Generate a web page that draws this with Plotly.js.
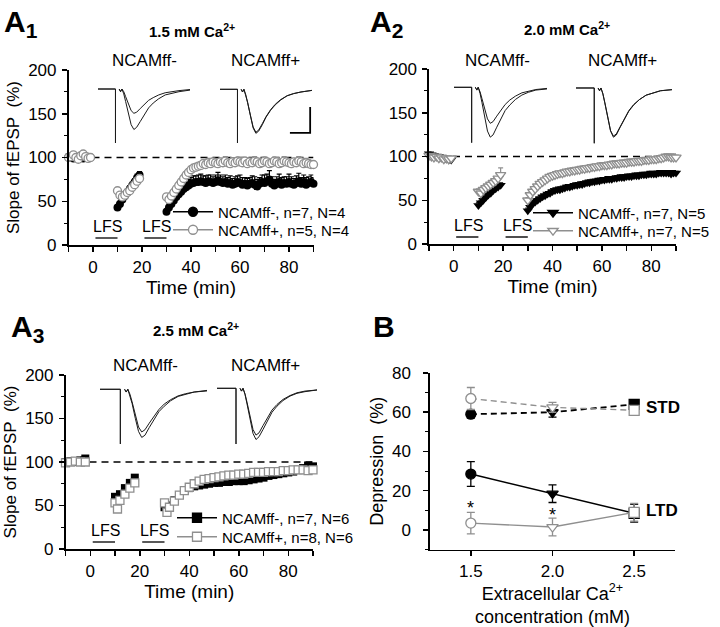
<!DOCTYPE html>
<html><head><meta charset="utf-8">
<script src="https://cdn.plot.ly/plotly-3.0.1.min.js"></script>
<style>html,body{margin:0;padding:0;background:#fff}#chart{width:720px;height:627px}</style>
</head><body><div id="chart"></div><script>
const FONT = 'Liberation Sans, Arial, Helvetica, sans-serif';
const GREY = '#8f8f8f';

// ---------- time axis (min) for A1 / A2 ----------
const timeBase = [-10,-9,-8,-7,-6,-5,-4,-3,-2,-1];
const timeAfterLfs1 = [10,11,12,13,14,15,16,17,18,19];
const timeAfterLfs2 = [30,31,32,33,34,35,36,37,38,39,40,41,42,43,44,45,46,47,48,49,50,51,52,53,54,55,56,57,58,59,60,61,62,63,64,65,66,67,68,69,70,71,72,73,74,75,76,77,78,79,80,81,82,83,84,85,86,87,88,89,90];

// ---------- A1 : 1.5 mM Ca ----------
const a1MinusBase = [101,100,99,100,101,100,99,100,101,100];
const a1MinusLfs1 = [43,47,52,56,60,64,68,72,77,80];
const a1MinusLfs2 = [38,43,47,51,55,58,61,64,66,68,70,71,72,72,73,72,71,73,72,71,72,74,72,71,72,70,71,69,70,72,71,69,70,68,70,71,69,67,70,72,71,73,75,70,68,70,72,69,71,70,72,70,69,71,73,70,72,69,71,72,70];
const a1PlusBase = [100,101,103,100,98,102,104,101,99,100];
const a1PlusLfs1 = [62,57,55,57,60,62,66,69,73,76];
const a1PlusLfs2 = [55,52,56,60,64,68,72,76,80,83,86,88,89,90,91,93,92,94,93,95,94,93,95,94,96,94,93,95,94,96,95,94,96,93,95,94,96,95,93,94,96,95,93,94,96,95,93,94,96,95,94,93,95,94,96,95,93,94,93,92,92];
const a1MinusErr = [2,2,2,2,2,2,2,2,2,2, 3,3,3,3,4,4,4,4,4,4, 3,4,4,5,5,5,6,6,6,7,7,8,7,8,8,7,8,7,8,7,8,9,8,7,8,7,8,7,8,7,9,8,7,8,7,8,9,8,7,8,9,8,10,8,7,8,9,8,7,8,9,8,7,8,9,7,8,8,7,8,7];
const a1PlusErr = [2,2,2,2,2,2,2,2,2,2, 3,3,3,3,3,4,3,3,4,4, 3,3,3,3,4,4,4,4,4,4,4,4,4,4,4,4,4,5,4,4,4,5,4,4,5,4,4,5,4,4,5,4,4,5,4,4,5,4,4,5,4,4,5,4,4,5,4,4,5,4,4,5,4,4,5,4,4,5,4,4,4];

// ---------- A2 : 2.0 mM Ca ----------
const a2MinusBase = [103,102,101,100,100,99,98,97,96,96];
const a2MinusLfs1 = [44,47,50,53,56,58,61,63,65,67];
const a2MinusLfs2 = [38,42,46,48,50,52,54,55,57,58,60,61,62,62,63,64,65,65,66,67,67,68,68,69,70,70,71,71,72,72,73,73,74,74,74,75,75,76,76,76,77,77,77,78,78,78,79,79,79,80,80,80,80,81,81,81,81,81,80,81,81];
const a2PlusBase = [101,100,99,100,98,99,97,98,97,98];
const a2PlusLfs1 = [60,58,62,64,66,68,70,72,75,79];
const a2PlusLfs2 = [50,56,60,63,66,69,71,73,75,77,78,79,80,81,81,82,83,83,84,84,85,85,86,86,87,87,88,88,89,89,90,90,90,91,91,92,92,92,93,93,93,94,94,94,95,95,95,96,96,96,97,97,97,98,98,99,100,100,99,99,99];
const a2MinusErr = [2,2,2,2,2,2,2,2,2,2, 3,3,3,3,3,3,3,3,3,3, 3,3,3,3,3,3,3,3,3,3,3,3,3,3,3,3,3,3,3,3,3,3,3,3,3,3,3,3,3,3,3,3,3,3,3,3,3,3,3,3,3,3,3,3,3,3,3,3,3,3,3,3,3,3,3,3,3,3,3,3,3];
const a2PlusErr = [2,2,2,2,2,2,2,2,2,2, 3,3,3,3,3,3,4,4,5,8, 3,3,3,3,3,3,3,3,3,3,3,3,3,3,3,3,3,3,3,3,3,3,3,3,3,3,3,3,3,3,3,3,3,3,3,3,3,3,3,3,3,3,3,3,3,3,3,3,3,3,3,3,3,3,3,3,3,3,3,4,3];

// ---------- A3 : 2.5 mM Ca ----------
const a3TimeBase = [-10,-8,-6,-4,-2];
const a3TimeLfs1 = [10,11,12,14,16,18];
const a3TimeLfs2 = [30,31,32,34,36,38,40,42,44,46,48,50,52,54,56,58,60,62,64,66,68,70,72,74,76,78,80,82,84,86,88,90];
const a3MinusBase = [100,101,100,102,104];
const a3MinusLfs1 = [60,58,63,70,76,82];
const a3MinusLfs2 = [48,46,50,56,62,67,70,72,73,74,75,76,76,77,77,78,78,78,79,80,81,82,84,85,86,87,88,89,91,93,96,95];
const a3PlusBase = [99,100,101,100,100];
const a3PlusLfs1 = [53,46,56,63,70,76];
const a3PlusLfs2 = [53,42,48,55,62,67,71,75,78,80,81,82,83,84,85,85,86,86,87,88,88,88,89,89,89,90,90,91,91,91,90,91];
const a3Err = [2,2,2,2,2, 2,2,2,2,2,2, 2,2,2,2,2,2,2,2,2,2,2,2,2,2,2,2,2,2,2,2,2,2,2,2,2,2,2,2,2,2,2,2];

// ---------- B : summary ----------
const caConc = [1.5, 2.0, 2.5];
const pointSymbols = ['circle','triangle-down','square'];
const stdMinus = [59, 60, 64];     const stdMinusErr = [2, 2.5, 1.5];
const stdPlus  = [67, 62.5, 61];   const stdPlusErr  = [5.6, 2.5, 2];
const ltdMinus = [28.5, 18.5, 8.5]; const ltdMinusErr = [6.3, 4.5, 4.5];
const ltdPlus  = [3.5, 1.5, 9];    const ltdPlusErr  = [5.5, 4.5, 4.5];

// ---------- inset fEPSP waveforms (ms, normalised) ----------
const waveT = [0,1.9,1.9,null,2.3,2.45,2.6,2.8,3.0,3.3,3.6,3.9,4.2,4.6,5.0,5.5,6.0,6.6,7.3,8.0,8.8,10];
const wA1MinusPre  = [0,0,-1,null,0,-0.05,0,-0.09,-0.23,-0.45,-0.66,-0.75,-0.71,-0.6,-0.48,-0.35,-0.26,-0.18,-0.11,-0.08,-0.05,-0.02];
const wA1MinusPost = [0,0,-1,null,0,-0.05,0,-0.05,-0.14,-0.27,-0.4,-0.45,-0.43,-0.36,-0.29,-0.21,-0.16,-0.11,-0.07,-0.05,-0.03,-0.01];
const wA1PlusPre   = [0,0,-1,null,0,-0.05,0,-0.1,-0.25,-0.49,-0.72,-0.82,-0.78,-0.66,-0.52,-0.39,-0.29,-0.2,-0.12,-0.08,-0.05,-0.02];
const wA1PlusPost  = [0,0,-1,null,0,-0.05,0,-0.1,-0.24,-0.48,-0.7,-0.8,-0.76,-0.64,-0.51,-0.38,-0.28,-0.19,-0.12,-0.08,-0.05,-0.02];
const wA2MinusPre  = [0,0,-1,null,0,-0.05,0,-0.11,-0.27,-0.54,-0.79,-0.9,-0.86,-0.72,-0.58,-0.42,-0.32,-0.22,-0.14,-0.09,-0.05,-0.03];
const wA2MinusPost = [0,0,-1,null,0,-0.05,0,-0.08,-0.2,-0.39,-0.57,-0.65,-0.62,-0.52,-0.42,-0.31,-0.23,-0.16,-0.1,-0.07,-0.04,-0.02];
const wA2PlusPre   = [0,0,-1,null,0,-0.05,0,-0.11,-0.27,-0.53,-0.78,-0.89,-0.85,-0.71,-0.57,-0.42,-0.31,-0.21,-0.13,-0.09,-0.05,-0.03];
const wA2PlusPost  = [0,0,-1,null,0,-0.05,0,-0.1,-0.26,-0.52,-0.77,-0.87,-0.83,-0.7,-0.56,-0.41,-0.3,-0.21,-0.13,-0.09,-0.05,-0.03];
const wA3MinusPre  = [0,0,-1,null,0,-0.05,0,-0.11,-0.26,-0.53,-0.77,-0.88,-0.84,-0.7,-0.56,-0.41,-0.31,-0.21,-0.13,-0.09,-0.05,-0.03];
const wA3MinusPost = [0,0,-1,null,0,-0.05,0,-0.09,-0.23,-0.47,-0.69,-0.78,-0.74,-0.62,-0.5,-0.37,-0.27,-0.19,-0.12,-0.08,-0.05,-0.02];
const wA3PlusPre   = [0,0,-1,null,0,-0.05,0,-0.11,-0.28,-0.55,-0.81,-0.92,-0.87,-0.74,-0.59,-0.43,-0.32,-0.22,-0.14,-0.09,-0.06,-0.03];
const wA3PlusPost  = [0,0,-1,null,0,-0.05,0,-0.1,-0.25,-0.5,-0.74,-0.84,-0.8,-0.67,-0.54,-0.39,-0.29,-0.2,-0.13,-0.08,-0.05,-0.03];
const scaleBarMs = 2.2, scaleBarAmp = 0.48;

const baselinePct = 100;
const lfsPeriods = [[1,10],[21,30]];

// ---------------- build traces ----------------
const traces = [];
const tA = [...timeBase, ...timeAfterLfs1, ...timeAfterLfs2];
const tA3 = [...a3TimeBase, ...a3TimeLfs1, ...a3TimeLfs2];

function dataPair(ax, ay, t, yMinus, eMinus, yPlus, ePlus, sym, size) {
  traces.push({x:t, y:yMinus, xaxis:ax, yaxis:ay, mode:'markers', showlegend:false, cliponaxis:false,
    marker:{symbol:sym, size:size, color:'#000', line:{width:0}},
    error_y:{type:'data', symmetric:false, array:eMinus, arrayminus:eMinus.map(()=>0), color:'#000', thickness:1.2, width:2.5}});
  traces.push({x:t, y:yPlus, xaxis:ax, yaxis:ay, mode:'markers', showlegend:false, cliponaxis:false,
    marker:{symbol:sym, size:size, color:'#fff', line:{width:1.3, color:GREY}},
    error_y:{type:'data', symmetric:false, array:ePlus, arrayminus:ePlus.map(()=>0), color:GREY, thickness:1.2, width:2.5}});
}
function legendEntry(ax, ay, leg, sym, name, filled) {
  const c = filled ? '#000' : GREY;
  traces.push({x:[null], y:[null], xaxis:ax, yaxis:ay, mode:'lines+markers', legend:leg,
    name:'<span style="font-size:15px">' + name + '</span>',
    line:{color:c, width:1.6}, marker:{symbol:sym, size:9, color: filled ? '#000' : '#fff', line:{width:1.3, color:c}}});
}
dataPair('x','y', tA, [...a1MinusBase,...a1MinusLfs1,...a1MinusLfs2], a1MinusErr,
  [...a1PlusBase,...a1PlusLfs1,...a1PlusLfs2], a1PlusErr, 'circle', 8);
dataPair('x2','y2', tA, [...a2MinusBase,...a2MinusLfs1,...a2MinusLfs2], a2MinusErr,
  [...a2PlusBase,...a2PlusLfs1,...a2PlusLfs2], a2PlusErr, 'triangle-down', 9);
dataPair('x3','y3', tA3, [...a3MinusBase,...a3MinusLfs1,...a3MinusLfs2], a3Err,
  [...a3PlusBase,...a3PlusLfs1,...a3PlusLfs2], a3Err, 'square', 8);
legendEntry('x','y','legend','circle','NCAMff-, n=7, N=4', true);
legendEntry('x','y','legend2','circle','NCAMff+, n=5, N=4', false);
legendEntry('x2','y2','legend3','triangle-down','NCAMff-, n=7, N=5', true);
legendEntry('x2','y2','legend4','triangle-down','NCAMff+, n=7, N=5', false);
legendEntry('x3','y3','legend5','square','NCAMff-, n=7, N=6', true);
legendEntry('x3','y3','legend6','square','NCAMff+, n=8, N=6', false);

// panel B
function bTrace(y, e, color, dash, filled, width) {
  traces.push({x:caConc, y:y, xaxis:'x4', yaxis:'y4', mode:'lines+markers', showlegend:false, cliponaxis:false,
    line:{color:color, width:width, dash:dash},
    marker:{symbol:pointSymbols, size:10, color: filled ? '#000' : '#fff', line:{width:1.3, color:color}},
    error_y:{type:'data', array:e, color:color, thickness:1.3, width:4}});
}
bTrace(stdMinus, stdMinusErr, '#000', '6px,4px', true, 1.8);
bTrace(stdPlus, stdPlusErr, GREY, '6px,4px', false, 1.4);
bTrace(ltdMinus, ltdMinusErr, '#000', 'solid', true, 1.5);
bTrace(ltdPlus, ltdPlusErr, GREY, 'solid', false, 1.4);

// insets
const insets = [
  ['x5','y5', wA1MinusPre, wA1MinusPost],
  ['x6','y6', wA1PlusPre, wA1PlusPost],
  ['x7','y7', wA2MinusPre, wA2MinusPost],
  ['x8','y8', wA2PlusPre, wA2PlusPost],
  ['x9','y9', wA3MinusPre, wA3MinusPost],
  ['x10','y10', wA3PlusPre, wA3PlusPost]
];
insets.forEach(([ax, ay, pre, post]) => {
  [pre, post].forEach(w => traces.push({x:waveT, y:w, xaxis:ax, yaxis:ay, mode:'lines', showlegend:false,
    connectgaps:false, cliponaxis:false, line:{color:'#1a1a1a', width:1}}));
});
// scale bar (A1, NCAMff+ inset)
traces.push({x:[9.8, 9.8, 9.8 - scaleBarMs], y:[-0.81 + scaleBarAmp, -0.81, -0.81], xaxis:'x6', yaxis:'y6',
  mode:'lines', showlegend:false, cliponaxis:false, line:{color:'#000', width:1.8}});

// ---------------- layout ----------------
const W = 720, H = 627;
const px = v => v / W, py = v => 1 - v / H;

function xAxisA(dom, anchor) {
  return {domain:dom, anchor:anchor, range:[-10,90], showline:true, linewidth:1.6, linecolor:'#000',
    ticks:'outside', ticklen:5, tickwidth:1.5, tickcolor:'#000', tick0:0, dtick:20,
    minor:{dtick:10, ticks:'outside', ticklen:5, tickwidth:1.5, tickcolor:'#000', showgrid:false},
    showgrid:false, zeroline:false, ticklabelstandoff:1, tickfont:{family:FONT, size:17, color:'#000'},
    title:{text:'Time (min)', font:{family:FONT, size:19, color:'#000'}, standoff:4}};
}
function yAxisA(dom, anchor, title) {
  const ax = {domain:dom, anchor:anchor, range:[0,200], showline:true, linewidth:1.6, linecolor:'#000',
    ticks:'outside', ticklen:5, tickwidth:1.5, tickcolor:'#000', tick0:0, dtick:50,
    minor:{dtick:25, ticks:'outside', ticklen:3, tickwidth:1.2, tickcolor:'#000', showgrid:false},
    showgrid:false, zeroline:false, ticklabelstandoff:2, tickfont:{family:FONT, size:17, color:'#000'}};
  if (title) ax.title = {text:title, font:{family:FONT, size:17, color:'#000'}, standoff:4};
  return ax;
}
function insetAxes(x0, x1, y0, y1) {
  const s = y1 - y0;
  return [
    {domain:[px(x0), px(x1)], range:[0,10], visible:false, fixedrange:true},
    {domain:[py(y1 + 0.05*s), py(y0 - 0.05*s)], range:[-1.05,0.05], visible:false, fixedrange:true}
  ];
}

const layout = {
  width:W, height:H, margin:{l:0,r:0,t:0,b:0}, paper_bgcolor:'#fff', plot_bgcolor:'rgba(0,0,0,0)',
  font:{family:FONT, size:15, color:'#000'}, showlegend:true,
  xaxis: xAxisA([px(68.5), px(313.5)], 'y'),
  yaxis: yAxisA([py(245), py(70)], 'x', 'Slope of fEPSP&nbsp; (%)'),
  xaxis2: xAxisA([px(429), px(676)], 'y2'),
  yaxis2: yAxisA([py(244), py(69)], 'x2', null),
  xaxis3: xAxisA([px(65.5), px(313)], 'y3'),
  yaxis3: yAxisA([py(549), py(375)], 'x3', 'Slope of fEPSP&nbsp; (%)'),
  xaxis4: {domain:[px(430), px(675)], anchor:'y4', range:[1.25,2.75], showline:true, linewidth:1.6, linecolor:'#000',
    ticks:'outside', ticklen:5, tickwidth:1.5, tickcolor:'#000', tickvals:caConc, tickformat:'.1f',
    showgrid:false, zeroline:false, ticklabelstandoff:0, tickfont:{family:FONT, size:17, color:'#000'},
    title:{text:'Extracellular Ca<sup>2+</sup><br>concentration (mM)', font:{family:FONT, size:18, color:'#000'}, standoff:12}},
  yaxis4: {domain:[py(549.6), py(373)], anchor:'x4', range:[-10,80], showline:true, linewidth:1.6, linecolor:'#000',
    ticks:'outside', ticklen:5, tickwidth:1.5, tickcolor:'#000', tickvals:[0,20,40,60,80],
    minor:{tickvals:[-10,10,30,50,70], ticks:'outside', ticklen:3, tickwidth:1.2, tickcolor:'#000', showgrid:false},
    showgrid:false, zeroline:false, ticklabelstandoff:9, tickfont:{family:FONT, size:17, color:'#000'},
    title:{text:'Depression&nbsp; (%)', font:{family:FONT, size:18, color:'#000'}, standoff:4}},
  shapes:[], annotations:[]
};
const insetPx = [[98,190,89,143],[220,312,89.3,143],[454,547,87.3,142.7],[576,672,88,143.3],[100,207,389.3,444],[217,317,388.3,444]];
insetPx.forEach((p, i) => {
  const [xa, ya] = insetAxes(...p);
  const n = i + 5;
  xa.anchor = 'y' + n; ya.anchor = 'x' + n;
  layout['xaxis' + n] = xa; layout['yaxis' + n] = ya;
});

// one legend per entry so each row sits where the reference has it
const legendPos = [[168,212],[168,230],[528,213],[528,231],[172,518],[172,537]];
legendPos.forEach(([lx, ly], i) => {
  layout[i === 0 ? 'legend' : 'legend' + (i + 1)] = {x:px(lx), y:py(ly), xanchor:'left', yanchor:'middle',
    bgcolor:'rgba(0,0,0,0)', font:{family:FONT, size:15, color:'#000'}, itemwidth:40};
});

// reference line and LFS bars
[['x','y'],['x2','y2'],['x3','y3']].forEach(([xr, yr]) => {
  layout.shapes.push({type:'line', xref:xr, yref:yr, x0:-10, x1:90, y0:baselinePct, y1:baselinePct, layer:'below',
    line:{color:'#000', width:1.5, dash:'7px,5px'}});
  lfsPeriods.forEach(([a, b]) => {
    layout.shapes.push({type:'line', xref:xr, yref:yr, x0:a, x1:b, y0:8, y1:8, line:{color:'#222', width:1.6}});
    layout.annotations.push({xref:xr, yref:yr, x:(a + b) / 2 + 0.5, y:21, xanchor:'center', yanchor:'middle',
      text:'LFS', showarrow:false, font:{family:FONT, size:16, color:'#000'}});
  });
});

function note(x, y, text, size, opts) {
  layout.annotations.push(Object.assign({xref:'paper', yref:'paper', x:x, y:y, xanchor:'center', yanchor:'middle',
    text:text, showarrow:false, font:{family:FONT, size:size, color:'#000'}}, opts || {}));
}
// panel letters
note(px(2), py(3), '<b>A<sub>1</sub></b>', 30, {xanchor:'left', yanchor:'top'});
note(px(368), py(3), '<b>A<sub>2</sub></b>', 30, {xanchor:'left', yanchor:'top'});
note(px(9), py(308), '<b>A<sub>3</sub></b>', 30, {xanchor:'left', yanchor:'top'});
note(px(371), py(308), '<b>B</b>', 30, {xanchor:'left', yanchor:'top'});
// panel titles
note(px(192), py(31), '<b>1.5 mM Ca<sup>2+</sup></b>', 15);
note(px(567), py(29), '<b>2.0 mM Ca<sup>2+</sup></b>', 15);
note(px(196), py(329), '<b>2.5 mM Ca<sup>2+</sup></b>', 15);
// inset labels
note(px(144), py(60), 'NCAMff-', 17); note(px(265), py(60), 'NCAMff+', 17);
note(px(497), py(60), 'NCAMff-', 17); note(px(622), py(60), 'NCAMff+', 17);
note(px(145), py(365), 'NCAMff-', 17); note(px(265), py(365), 'NCAMff+', 17);
// panel B labels
function bNote(x, y, text, size, xa) {
  layout.annotations.push({xref:'x4', yref:'y4', x:x, y:y, xanchor:xa, yanchor:'middle', text:text, showarrow:false,
    font:{family:FONT, size:size, color:'#000'}});
}
bNote(2.56, 62.5, '<b>STD</b>', 17, 'left');
bNote(2.56, 10, '<b>LTD</b>', 17, 'left');
bNote(1.5, 11, '*', 18, 'center');
bNote(2.0, 7.5, '*', 18, 'center');

Plotly.newPlot('chart', traces, layout, {staticPlot:true, displayModeBar:false});
</script></body></html>
